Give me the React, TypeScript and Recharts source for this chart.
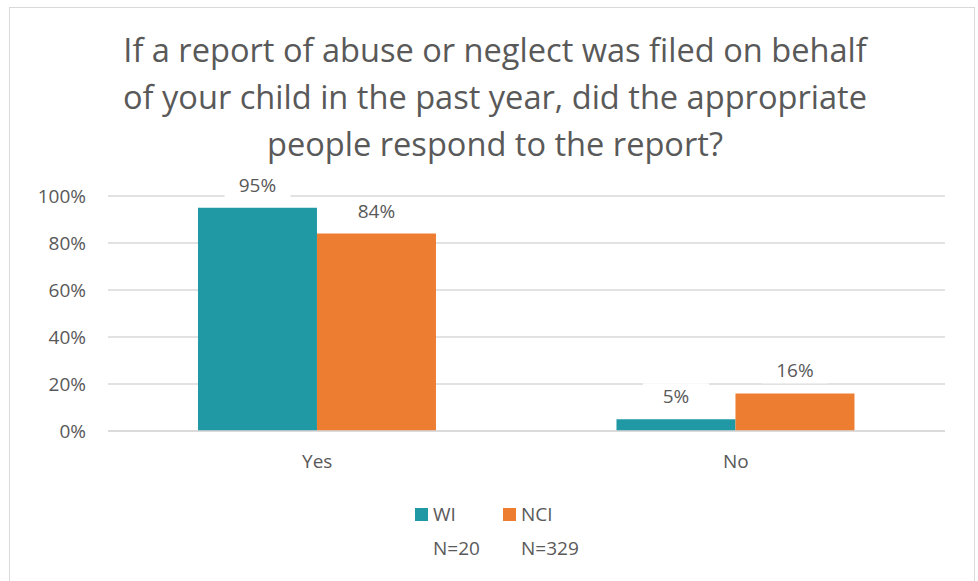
import { BarChart, Bar, XAxis, YAxis, CartesianGrid, LabelList } from 'recharts';

const categories = ['Yes', 'No'];
const wiValues = [95, 5];
const nciValues = [84, 16];
const yTicks = [0, 20, 40, 60, 80, 100];
const seriesNames = ['WI', 'NCI'];
const sampleSizes = ['N=20', 'N=329'];
const titleLines = [
  'If a report of abuse or neglect was filed on behalf',
  'of your child in the past year, did the appropriate',
  'people respond to the report?',
];

const colors = ['#2199A4', '#ED7D31'];
const textColor = '#595959';
const gridColor = '#D9D9D9';
const font = '"Open Sans", "Noto Sans", sans-serif';
const small = 19;

const data = categories.map((c, i) => ({ name: c, WI: wiValues[i], NCI: nciValues[i] }));

const PctLabel = (props: any) => {
  const { x, y, width, value } = props;
  const cx = x + width / 2;
  const cy = y - 23;
  return (
    <g>
      <rect x={cx - 33} y={cy - 13} width={66} height={26} fill="#fff" />
      <text x={cx} y={cy} textAnchor="middle" dominantBaseline="central" fill={textColor} fontSize={small} fontFamily={font}>
        {value}%
      </text>
    </g>
  );
};

const LegendBox = () => (
  <div style={{ position: 'absolute', left: 415, top: 497, display: 'flex', fontFamily: font, color: textColor, fontSize: small }}>
    {seriesNames.map((n, i) => (
      <div key={n} style={{ width: 88, lineHeight: '34px' }}>
        <div style={{ display: 'flex', alignItems: 'center' }}>
          <span style={{ display: 'inline-block', width: 13, height: 13, background: colors[i], marginRight: 5 }} />
          <span>{n}</span>
        </div>
        <div style={{ paddingLeft: 18 }}>{sampleSizes[i]}</div>
      </div>
    ))}
  </div>
);

export default function App() {
  return (
    <div style={{ position: 'absolute', left: 0, top: 0, width: 978, height: 581, background: '#fff', overflow: 'hidden' }}>
      <div style={{ position: 'absolute', left: 9, top: 7, width: 966, height: 580, border: `1px solid ${gridColor}`, boxSizing: 'border-box' }} />
      <div style={{ position: 'absolute', left: 0, top: 26, width: 990, textAlign: 'center', fontFamily: font, color: textColor, fontSize: 32.6, lineHeight: '47px' }}>
        {titleLines.map((l) => (
          <div key={l}>{l}</div>
        ))}
      </div>
      <div style={{ position: 'absolute', left: 0, top: 0 }}>
        <BarChart width={978} height={581} data={data} margin={{ top: 196, right: 33, bottom: 120, left: 0 }} barCategoryGap="21.5%" barGap={0}>
          <CartesianGrid vertical={false} stroke={gridColor} strokeWidth={1.5} />
          <XAxis dataKey="name" height={30} axisLine={{ stroke: gridColor, strokeWidth: 1.5 }} tickLine={false} tickSize={0} tickMargin={24} tick={{ fill: textColor, fontSize: small, fontFamily: font }} />
          <YAxis width={108} domain={[0, 100]} ticks={yTicks} tickFormatter={(v) => `${v}%`} axisLine={false} tickLine={false} tickSize={0} tickMargin={22} tick={{ fill: textColor, fontSize: small, fontFamily: font }} />
          <Bar dataKey="WI" fill={colors[0]} isAnimationActive={false}>
            <LabelList dataKey="WI" content={<PctLabel />} />
          </Bar>
          <Bar dataKey="NCI" fill={colors[1]} isAnimationActive={false}>
            <LabelList dataKey="NCI" content={<PctLabel />} />
          </Bar>
        </BarChart>
      </div>
      <LegendBox />
    </div>
  );
}
